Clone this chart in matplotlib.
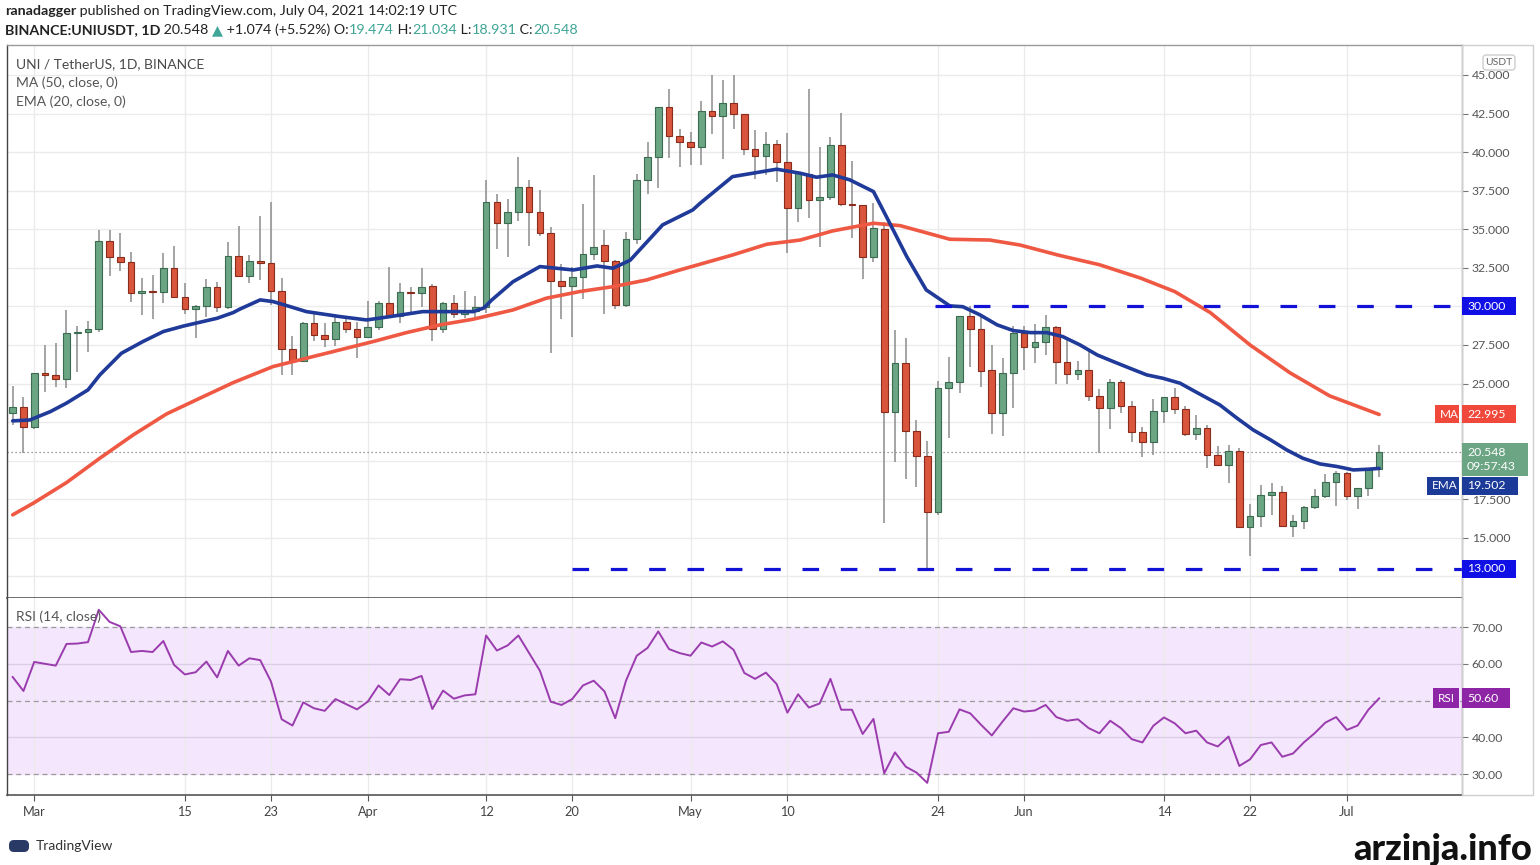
import matplotlib
matplotlib.use('Agg')
import matplotlib.pyplot as plt
from matplotlib.patches import Rectangle, FancyBboxPatch
import numpy as np

plt.rcParams['font.family'] = ['Lato', 'DejaVu Sans']

# ---------------- data (daily candles, 27 Feb 2021 .. 04 Jul 2021) ----------------
opens = [23.07, 23.50, 22.20, 25.69, 25.55, 25.30, 28.26, 28.35, 28.52, 34.26,
         33.22, 32.86, 30.89, 31.00, 30.90, 32.47, 30.63, 29.83, 30.05, 31.28,
         29.98, 33.27, 31.97, 32.94, 32.80, 31.00, 27.22, 26.48, 28.91, 28.15,
         27.87, 29.01, 28.52, 28.00, 28.69, 30.20, 29.40, 30.92, 30.85, 31.30,
         28.54, 30.20, 29.51, 29.70, 29.95, 36.75, 35.39, 36.10, 37.76, 36.14,
         34.78, 31.65, 31.35, 31.93, 33.40, 33.98, 32.94, 30.10, 34.35, 38.20,
         39.67, 42.91, 41.07, 40.64, 40.35, 42.69, 42.34, 43.17, 42.45, 40.19,
         39.77, 40.51, 39.38, 36.36, 38.57, 36.90, 37.10, 40.46, 36.64, 36.55,
         33.22, 35.00, 23.14, 26.36, 21.93, 20.31, 16.66, 24.70, 25.12, 29.38,
         28.52, 25.90, 23.11, 25.70, 28.26, 27.39, 27.68, 28.69, 26.42, 25.60,
         25.86, 24.20, 23.44, 25.12, 23.57, 21.84, 21.24, 23.24, 24.15, 23.35,
         21.73, 22.14, 20.37, 19.73, 20.65, 15.73, 16.42, 17.78, 18.00, 15.77,
         16.10, 17.02, 17.72, 18.64, 19.23, 17.74, 18.22, 19.474]
highs = [24.84, 24.10, 25.70, 27.48, 27.60, 29.77, 28.73, 29.06, 34.95, 34.95,
         34.78, 33.55, 31.82, 32.04, 33.44, 33.92, 31.50, 30.10, 31.76, 31.60,
         34.20, 35.23, 33.33, 35.86, 36.79, 31.86, 28.08, 29.00, 29.56, 28.95,
         29.49, 29.17, 29.00, 30.35, 30.35, 32.54, 31.54, 31.28, 32.47, 31.43,
         30.30, 30.74, 31.00, 30.68, 38.20, 37.27, 36.96, 39.67, 38.20, 37.55,
         35.17, 32.75, 32.58, 36.62, 38.52, 34.95, 33.00, 34.84, 38.58, 40.68,
         42.95, 44.07, 41.48, 41.33, 43.33, 45.00, 44.68, 45.00, 42.50, 41.44,
         41.33, 40.79, 41.22, 38.65, 44.07, 40.35, 40.96, 42.52, 39.45, 36.60,
         36.69, 35.49, 28.47, 27.97, 22.64, 21.28, 25.19, 26.74, 29.40, 30.03,
         29.34, 27.50, 26.64, 28.73, 28.73, 28.86, 29.45, 28.73, 27.83, 26.47,
         27.22, 24.65, 25.28, 25.23, 23.89, 22.17, 23.98, 24.15, 24.70, 23.55,
         22.97, 22.31, 20.96, 21.02, 20.80, 17.20, 18.43, 18.58, 18.36, 16.49,
         17.05, 18.15, 19.14, 19.36, 19.25, 18.25, 19.50, 21.034]
lows = [22.32, 20.48, 22.06, 24.48, 24.80, 24.70, 25.77, 27.07, 28.37, 31.97,
        32.32, 30.31, 29.43, 29.17, 30.20, 30.60, 29.51, 27.94, 29.34, 29.66,
        29.80, 31.90, 31.50, 31.71, 30.09, 25.56, 25.56, 26.40, 27.78, 27.35,
        27.44, 28.30, 26.64, 27.95, 28.50, 29.34, 28.91, 29.66, 29.98, 27.78,
        28.26, 29.23, 29.23, 29.23, 29.56, 33.72, 33.22, 35.54, 33.94, 34.59,
        26.96, 29.17, 28.04, 30.46, 33.00, 29.51, 29.82, 29.95, 34.05, 37.29,
        37.66, 39.60, 39.02, 39.17, 39.17, 41.18, 39.56, 41.50, 39.82, 38.24,
        38.52, 38.09, 33.44, 35.46, 35.71, 33.87, 36.90, 36.50, 34.46, 31.76,
        32.90, 15.95, 19.94, 18.80, 18.32, 12.97, 16.49, 21.46, 24.38, 26.10,
        24.80, 21.73, 21.60, 23.40, 25.88, 26.32, 26.85, 24.96, 24.97, 25.23,
        23.87, 20.48, 22.04, 23.08, 21.24, 20.22, 20.37, 22.47, 23.03, 21.60,
        21.35, 19.51, 19.70, 18.54, 15.70, 13.83, 15.73, 16.49, 15.70, 15.08,
        15.60, 16.86, 17.57, 17.07, 17.46, 16.86, 17.74, 18.931]
closes = [23.50, 22.20, 25.69, 25.55, 25.30, 28.26, 28.35, 28.52, 34.26, 33.22,
          32.86, 30.89, 31.00, 30.90, 32.47, 30.63, 29.83, 30.05, 31.28, 29.98,
          33.27, 31.97, 32.94, 32.80, 31.00, 27.22, 26.48, 28.91, 28.15, 27.87,
          29.01, 28.52, 28.00, 28.69, 30.20, 29.40, 30.92, 30.85, 31.24, 28.54,
          30.20, 29.51, 29.70, 29.95, 36.75, 35.39, 36.10, 37.76, 36.14, 34.74,
          31.65, 31.35, 31.93, 33.40, 33.87, 32.94, 30.09, 34.35, 38.20, 39.67,
          42.91, 41.07, 40.64, 40.35, 42.69, 42.34, 43.17, 42.45, 40.19, 39.77,
          40.51, 39.38, 36.36, 38.63, 36.90, 37.10, 40.46, 36.64, 36.55, 33.22,
          35.06, 23.14, 26.36, 21.93, 20.31, 16.66, 24.70, 25.12, 29.38, 28.52,
          25.84, 23.11, 25.70, 28.26, 27.39, 27.68, 28.69, 26.42, 25.60, 25.86,
          24.20, 23.44, 25.12, 23.57, 21.84, 21.24, 23.24, 24.15, 23.35, 21.73,
          22.14, 20.37, 19.73, 20.65, 15.73, 16.42, 17.78, 18.00, 15.77, 16.10,
          17.02, 17.72, 18.64, 19.23, 17.74, 18.22, 19.474, 20.548]

rsi = [56.4, 52.6, 60.5, 60.0, 59.5, 65.4, 65.5, 65.9, 74.7, 71.4,
       70.2, 63.2, 63.5, 63.2, 66.2, 59.7, 57.1, 57.7, 60.6, 56.3,
       63.5, 59.5, 61.5, 61.0, 55.2, 44.9, 43.2, 49.5, 47.9, 47.2,
       50.4, 49.0, 47.6, 49.7, 54.1, 51.5, 55.8, 55.6, 56.7, 47.7,
       52.7, 50.5, 51.4, 51.7, 67.7, 63.6, 65.0, 67.7, 62.9, 58.1,
       49.7, 48.8, 50.4, 54.1, 55.4, 52.5, 45.2, 55.4, 62.2, 64.3,
       68.8, 64.0, 62.9, 62.2, 65.8, 64.7, 66.1, 63.8, 57.5, 55.9,
       57.6, 54.5, 46.7, 51.7, 48.1, 49.2, 55.9, 47.5, 47.5, 40.9,
       45.0, 30.2, 35.9, 32.0, 30.4, 27.6, 41.1, 41.5, 47.6, 46.5,
       43.4, 40.5, 44.3, 47.9, 47.0, 47.3, 48.8, 45.5, 44.5, 44.9,
       42.5, 41.1, 44.5, 42.5, 39.5, 38.6, 43.1, 45.4, 43.8, 41.1,
       41.8, 38.6, 37.5, 40.2, 32.2, 34.0, 37.9, 38.6, 34.7, 35.6,
       38.6, 41.1, 44.0, 45.5, 42.0, 43.2, 47.5, 50.6]

# MA(50) and EMA(20) (day index, value)
ma_x = [0, 1.9, 5.0, 8.1, 11.2, 14.3, 17.4, 20.5, 24.2, 27.3, 30.4, 33.5, 36.6,
        39.7, 42.8, 46.5, 49.6, 52.7, 55.8, 58.9, 62.0, 66.9, 70.1, 73.2, 76.2,
        80.0, 82.5, 87.1, 90.8, 93.6, 97.3, 101.0, 104.8, 108.0, 111.3, 115.0,
        118.7, 122.4, 127]
ma_y = [16.49, 17.24, 18.58, 20.16, 21.67, 23.03, 24.05, 25.06, 26.10, 26.64,
        27.18, 27.72, 28.30, 28.80, 29.17, 29.77, 30.53, 30.96, 31.28, 31.71,
        32.36, 33.33, 34.03, 34.30, 34.89, 35.39, 35.23, 34.35, 34.30, 33.98,
        33.30, 32.70, 31.84, 30.96, 29.60, 27.50, 25.70, 24.20, 22.995]
ema_x = [0, 1.6, 3.5, 5.0, 7.0, 8.1, 10.1, 12.1, 14.0, 15.9, 19.0, 20.5, 21.1,
         23.0, 24.2, 25.8, 27.3, 30.4, 32.9, 35.1, 38.1, 42.8, 43.8, 44.5, 46.5,
         49.0, 52.1, 54.3, 55.8, 57.4, 60.4, 63.2, 63.9, 66.9, 71.0, 73.2, 74.7,
         76.2, 77.8, 80.0, 81.2, 83.1, 84.9, 87.1, 88.3, 89.9, 91.5, 93.0, 94.6,
         96.1, 97.6, 99.2, 100.8, 102.3, 103.8, 105.4, 106.9, 108.5, 109.9,
         112.2, 113.8, 115.3, 116.9, 118.4, 119.9, 121.5, 123.1, 124.6, 126.1, 127]
ema_y = [22.58, 22.64, 23.18, 23.73, 24.59, 25.56, 26.96, 27.72, 28.37, 28.73,
         29.23, 29.60, 29.82, 30.42, 30.31, 29.98, 29.66, 29.34, 29.12, 29.34,
         29.66, 29.66, 29.90, 30.40, 31.60, 32.58, 32.36, 32.62, 32.47, 33.00,
         35.28, 36.25, 36.69, 38.41, 38.89, 38.63, 38.37, 38.52, 38.20, 37.44,
         35.82, 33.22, 31.07, 30.03, 29.98, 29.45, 28.80, 28.43, 28.30, 28.30,
         28.04, 27.50, 26.85, 26.42, 26.00, 25.56, 25.34, 25.02, 24.48, 23.61,
         22.75, 21.99, 21.35, 20.70, 20.16, 19.79, 19.62, 19.40, 19.45, 19.502]

tick_pos = [2, 16, 24, 33, 44, 52, 63, 72, 86, 94, 107, 115, 124]
tick_lab = ['Mar', '15', '23', 'Apr', '12', '20', 'May', '10', '24', 'Jun', '14', '22', 'Jul']
price_ticks = [12.5, 15, 17.5, 20, 22.5, 25, 27.5, 30, 32.5, 35, 37.5, 40, 42.5, 45]
price_hidden = [12.5, 20, 22.5, 30]      # labels covered by the value badges
rsi_ticks = [30, 40, 50, 60, 70]
rsi_hidden = [50]
resistance, resistance_from = 30.0, 85.7
support, support_from = 13.0, 52.0
last_price, last_ma, last_ema, last_rsi = 20.548, 22.995, 19.502, 50.60
countdown = '09:57:43'

# ---------------- figure ----------------
W, H = 1540, 865
fig = plt.figure(figsize=(W / 100, H / 100), dpi=100)
fig.patch.set_facecolor('white')

def fx(px):
    return px / W

def fy(py):
    return 1 - py / H

L, R = 7, 1462
P_TOP, P_BOT = 45, 598
R_TOP, R_BOT = 598, 795

axp = fig.add_axes([fx(L), fy(P_BOT), fx(R) - fx(L), fy(P_TOP) - fy(P_BOT)])
axr = fig.add_axes([fx(L), fy(R_BOT), fx(R) - fx(L), fy(R_TOP) - fy(R_BOT)], sharex=axp)

XMIN, XMAX = -0.53, 134.7
axp.set_xlim(XMIN, XMAX)
axp.set_ylim(11.1, 46.94)
axr.set_ylim(24.3, 77.9)

grid_c = '#ebebeb'
for ax in (axp, axr):
    for t in tick_pos:
        ax.axvline(t, color=grid_c, lw=1.0, zorder=0.5)
for v in price_ticks:
    axp.axhline(v, color=grid_c, lw=1.0, zorder=0.5)

# candles
idx = np.arange(len(opens))
o = np.array(opens); h = np.array(highs); l = np.array(lows); c = np.array(closes)
up = c >= o
bot = np.minimum(o, c)
hgt = np.maximum(np.abs(c - o), 0.09)
axp.vlines(idx, l, h, color='#8c8c8c', lw=1.1, zorder=2)
axp.bar(idx[up], hgt[up], bottom=bot[up], width=0.62, color='#6ba583',
        edgecolor='#3b6b50', lw=0.8, zorder=3)
axp.bar(idx[~up], hgt[~up], bottom=bot[~up], width=0.62, color='#d9553c',
        edgecolor='#8a2c1c', lw=0.8, zorder=3)

axp.plot(ma_x, ma_y, color='#ef5842', lw=2.6, zorder=4, solid_capstyle='round')
axp.plot(ema_x, ema_y, color='#1f3a98', lw=2.6, zorder=4, solid_capstyle='round')

axp.hlines(resistance, resistance_from, XMAX, colors='#1212d6', lw=2.3,
           linestyles=[(0, (5.2, 6.8))], zorder=5)
axp.hlines(support, support_from, XMAX, colors='#1212d6', lw=2.3,
           linestyles=[(0, (5.2, 6.8))], zorder=5)
axp.axhline(last_price, color='#7a7a7a', lw=0.9, ls=(0, (1, 2.2)), zorder=1)

# RSI pane
axr.axhspan(30, 70, color='#f4e6fc', zorder=0)
for v in (40, 60):
    axr.axhline(v, color='#dccde6', lw=0.9, zorder=0.6)
for v in (30, 50, 70):
    axr.axhline(v, color='#9a9a9a', lw=0.9, ls=(0, (4, 3)), zorder=0.7)
axr.plot(idx, rsi, color='#9a3cae', lw=1.4, zorder=3)

# axes styling
for ax in (axp, axr):
    ax.set_facecolor('white')
    ax.yaxis.tick_right()
    ax.tick_params(axis='y', length=4, width=0.8, color='#777777', labelcolor='#555555',
                   labelsize=8.8, pad=3)
    for s in ax.spines.values():
        s.set_color('#9a9a9a')
        s.set_linewidth(1.0)
    ax.spines['left'].set_color('#444444')
axp.set_yticks(price_ticks)
axp.set_yticklabels(['' if v in price_hidden else '%.3f' % v for v in price_ticks])
axr.set_yticks(rsi_ticks)
axr.set_yticklabels(['' if v in rsi_hidden else '%.2f' % v for v in rsi_ticks])
axp.tick_params(axis='x', bottom=False, labelbottom=False)
axp.spines['bottom'].set_color('#555555')
axp.spines['bottom'].set_linewidth(1.2)
axr.spines['top'].set_visible(False)
axr.spines['bottom'].set_color('#555555')
axr.spines['bottom'].set_linewidth(1.2)
axr.set_xticks(tick_pos)
axr.set_xticklabels(tick_lab)
axr.tick_params(axis='x', length=4, width=0.8, color='#555555', labelcolor='#444444',
                labelsize=9.2, pad=4)

# ---------------- overlay for texts and badges ----------------
ov = fig.add_axes([0, 0, 1, 1], zorder=10)
ov.set_xlim(0, W)
ov.set_ylim(H, 0)
ov.axis('off')
ov.patch.set_visible(False)

ov.add_patch(Rectangle((R, P_TOP), 1533 - R, R_BOT - P_TOP, fill=False,
                       edgecolor='#cfcfcf', lw=1.0))

def y_of(ax, v):
    disp = ax.transData.transform((0, v))
    return ov.transData.inverted().transform(disp)[1]

def badge(x0, x1, yc, hh, color, lines, fs=8.8, tcolor='white'):
    ov.add_patch(Rectangle((x0, yc - hh / 2), x1 - x0, hh, facecolor=color,
                           edgecolor='none', zorder=5))
    n = len(lines)
    for k, s in enumerate(lines):
        yy = yc + (k - (n - 1) / 2) * 14.5
        ov.text(x0 + 5, yy, s, color=tcolor, fontsize=fs, va='center', ha='left', zorder=6)

blue = '#1010e6'
badge(R, 1516, y_of(axp, resistance), 18, blue, ['%.3f' % resistance])
badge(R, 1516, y_of(axp, support), 18, blue, ['%.3f' % support])
yma = y_of(axp, last_ma)
badge(1435, 1459, yma, 18, '#f0483a', ['MA'], fs=8.5)
badge(R, 1516, yma, 18, '#f0483a', ['%.3f' % last_ma])
ylp = y_of(axp, last_price)
badge(R, 1528, ylp + 7.5, 33, '#6ba583', ['%.3f' % last_price, countdown])
yem = ylp + 33.5          # TradingView pushes the EMA label below the price label
badge(1427, 1459, yem, 18, '#1c3b98', ['EMA'], fs=8.5)
badge(R, 1518, yem, 18, '#1c3b98', ['%.3f' % last_ema])
yrs = y_of(axr, last_rsi)
badge(1433, 1459, yrs, 20, '#8e24a6', ['RSI'], fs=8.5)
badge(R, 1510, yrs, 20, '#8e24a6', ['%.2f' % last_rsi])

ov.add_patch(FancyBboxPatch((1483, 55), 32, 15, boxstyle='round,pad=0,rounding_size=3',
                            facecolor='white', edgecolor='#c8c8c8', lw=0.9, zorder=5))
ov.text(1499, 62.5, 'USDT', fontsize=7.5, color='#666666', ha='center', va='center', zorder=6)

# header texts
renderer = fig.canvas.get_renderer()

def seq(x, y, pieces, fs):
    for s, col, wt in pieces:
        t = ov.text(x, y, s, color=col, fontweight=wt, fontsize=fs, va='center', ha='left')
        bb = t.get_window_extent(renderer=renderer)
        x += bb.width

teal = '#3fa596'
seq(5, 11, [('ranadagger', '#222222', 'bold'),
            (' published on TradingView.com, July 04, 2021 14:02:19 UTC', '#222222', 'normal')], 10.3)
seq(5, 30, [('BINANCE:UNIUSDT, 1D', '#222222', 'bold'),
            (' 20.548 ', '#222222', 'normal'), ('\u25b2', teal, 'normal'),
            (' +1.074 (+5.52%) O:', '#222222', 'normal'), ('19.474', teal, 'normal'),
            (' H:', '#222222', 'normal'), ('21.034', teal, 'normal'),
            (' L:', '#222222', 'normal'), ('18.931', teal, 'normal'),
            (' C:', '#222222', 'normal'), ('20.548', teal, 'normal')], 10.3)

ov.text(16, 64, 'UNI / TetherUS, 1D, BINANCE', fontsize=10, color='#4a4a4a', va='center')
ov.text(16, 83, 'MA (50, close, 0)', fontsize=10, color='#555555', va='center')
ov.text(16, 102, 'EMA (20, close, 0)', fontsize=10, color='#555555', va='center')
ov.text(16, 617, 'RSI (14, close)', fontsize=10, color='#555555', va='center')

# footer
ov.add_patch(FancyBboxPatch((9, 840), 20, 12, boxstyle='round,pad=0,rounding_size=5',
                            facecolor='#2a3a66', edgecolor='none'))
ov.text(36, 846, 'TradingView', fontsize=10, color='#333333', va='center')
ov.text(1532, 849, 'arzinja.info', fontsize=26, fontweight='black', color='#111111',
        ha='right', va='center')

fig.savefig('out.png', dpi=100)
